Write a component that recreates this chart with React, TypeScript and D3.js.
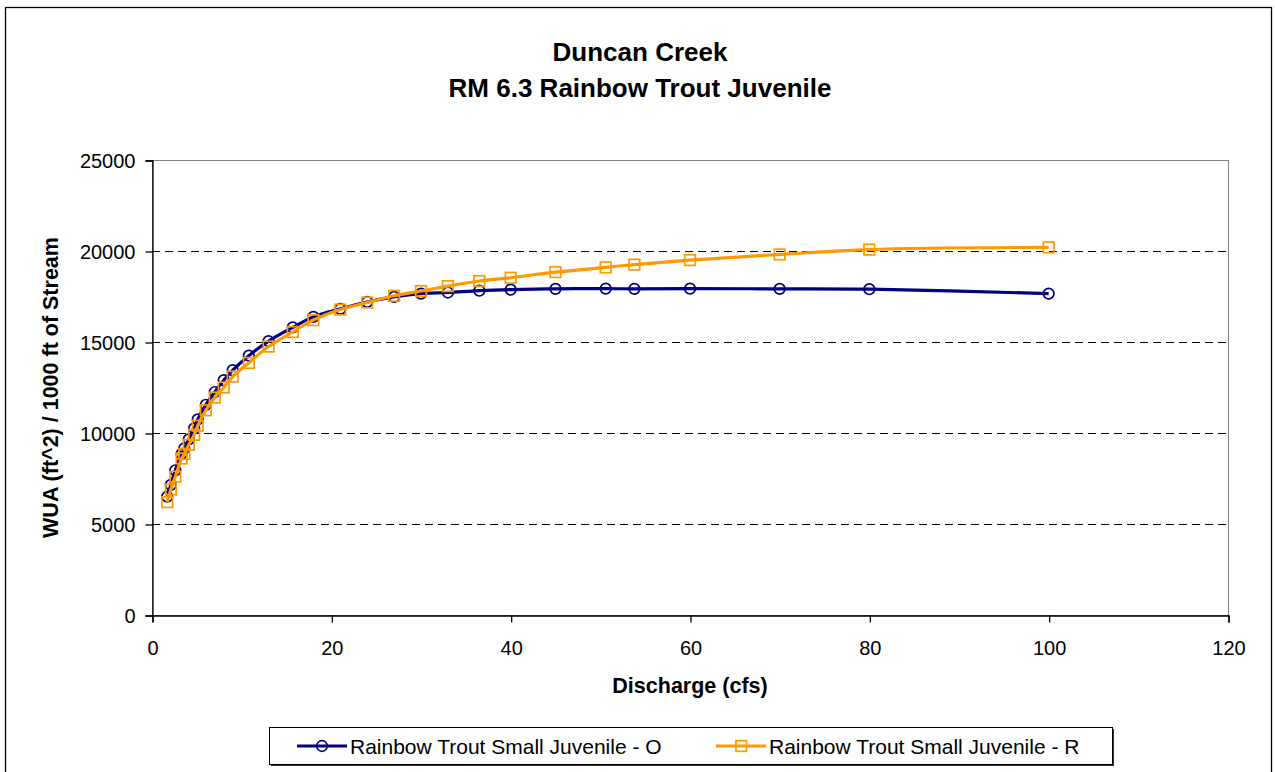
import React, { useEffect, useRef } from 'react';
import * as d3 from 'd3';

// Discharge (cfs)
const discharge = [1.7, 2.1, 2.6, 3.3, 3.6, 4.1, 4.7, 5.1, 6, 7, 8, 9, 10.8, 13, 15.7, 18, 21, 24, 27, 30, 33, 36.5, 40, 45, 50.6, 53.8, 60, 70, 80, 100];

// WUA per 1000 ft, series O (navy circles)
const wuaO = [6500, 7150, 7950, 8850, 9150, 9650, 10250, 10750, 11550, 12250, 12900, 13450, 14250, 15050, 15800, 16380, 16820, 17200, 17480, 17660, 17720, 17820, 17880, 17920, 17930, 17920, 17930, 17920, 17900, 17660];

// WUA per 1000 ft, series R (orange squares)
const wuaR = [6200, 6900, 7600, 8600, 8850, 9350, 9900, 10400, 11250, 11950, 12500, 13100, 13850, 14750, 15550, 16200, 16780, 17170, 17540, 17800, 18070, 18350, 18530, 18840, 19100, 19250, 19500, 19810, 20080, 20200];

const xTicks = [0, 20, 40, 60, 80, 100, 120];
const yTicks = [0, 5000, 10000, 15000, 20000, 25000];
const gridTicks = [5000, 10000, 15000, 20000];

const titleLines = ['Duncan Creek', 'RM 6.3 Rainbow Trout Juvenile'];
const seriesNames = ['Rainbow Trout Small Juvenile - O', 'Rainbow Trout Small Juvenile - R'];

const W = 1275;
const H = 772;
const FONT = 'Arial, "Liberation Sans", sans-serif';

const App: React.FC = () => {
  const svgRef = useRef<SVGSVGElement>(null);

  useEffect(() => {
    if (!svgRef.current) return;
    const svg = d3.select(svgRef.current);
    svg.selectAll('*').remove();

    const left = 152, right = 1228, top = 160, bottom = 615;
    const x = d3.scaleLinear().domain([0, 120]).range([left, right]);
    const y = d3.scaleLinear().domain([0, 25000]).range([bottom, top]);

    // outer chart border
    svg.append('rect')
      .attr('x', 5.5).attr('y', 7.5)
      .attr('width', 1266).attr('height', 780)
      .attr('fill', 'white').attr('stroke', 'black').attr('stroke-width', 1.3);

    // titles
    titleLines.forEach((t, i) => {
      svg.append('text')
        .text(t)
        .attr('x', 640).attr('y', 61 + i * 36)
        .attr('text-anchor', 'middle')
        .attr('font-family', FONT).attr('font-weight', 'bold').attr('font-size', 26);
    });

    // plot area border (gray)
    svg.append('rect')
      .attr('x', left + 0.5).attr('y', top + 0.5)
      .attr('width', right - left).attr('height', bottom - top)
      .attr('fill', 'none').attr('stroke', '#808080').attr('stroke-width', 1.2)
      .attr('shape-rendering', 'crispEdges');

    // dashed gridlines
    svg.selectAll('.grid').data(gridTicks).enter().append('line')
      .attr('x1', left).attr('x2', right)
      .attr('y1', d => y(d) + 0.5).attr('y2', d => y(d) + 0.5)
      .attr('stroke', 'black').attr('stroke-width', 1)
      .attr('stroke-dasharray', '8,5')
      .attr('shape-rendering', 'crispEdges');

    // y axis
    const yAxis = d3.axisLeft(y).tickValues(yTicks).tickSize(7).tickPadding(10).tickFormat(d => String(d));
    const gy = svg.append('g').attr('transform', `translate(${left + 0.5},0.5)`).call(yAxis);
    gy.select('.domain').attr('stroke', 'black').attr('stroke-width', 1.3);
    gy.selectAll('.tick line').attr('stroke', 'black').attr('stroke-width', 1.3);
    gy.selectAll('.tick text')
      .attr('font-family', FONT).attr('font-size', 20).attr('fill', 'black').attr('dy', '0.35em');

    // x axis
    const xAxis = d3.axisBottom(x).tickValues(xTicks).tickSize(7).tickPadding(18).tickFormat(d => String(d));
    const gx = svg.append('g').attr('transform', `translate(0.5,${bottom + 0.5})`).call(xAxis);
    gx.select('.domain').attr('stroke', 'black').attr('stroke-width', 1.3);
    gx.selectAll('.tick line').attr('stroke', 'black').attr('stroke-width', 1.3);
    gx.selectAll('.tick text')
      .attr('font-family', FONT).attr('font-size', 20).attr('fill', 'black');

    // axis titles
    svg.append('text')
      .text('Discharge (cfs)')
      .attr('x', 690).attr('y', 693)
      .attr('text-anchor', 'middle')
      .attr('font-family', FONT).attr('font-weight', 'bold').attr('font-size', 21.5);

    svg.append('text')
      .text('WUA (ft^2) / 1000 ft of Stream')
      .attr('transform', `translate(58,${(top + bottom) / 2}) rotate(-90)`)
      .attr('text-anchor', 'middle')
      .attr('font-family', FONT).attr('font-weight', 'bold').attr('font-size', 21.5);

    const series = [
      { values: wuaO, color: '#000080', marker: 'circle' },
      { values: wuaR, color: '#FF9900', marker: 'square' },
    ];

    const line = d3.line<[number, number]>()
      .x(d => x(d[0])).y(d => y(d[1]))
      .curve(d3.curveCatmullRom.alpha(0.5));

    series.forEach(s => {
      const pts: [number, number][] = discharge.map((q, i) => [q, s.values[i]]);
      svg.append('path')
        .datum(pts)
        .attr('d', line)
        .attr('fill', 'none')
        .attr('stroke', s.color)
        .attr('stroke-width', 3.2);

      if (s.marker === 'circle') {
        svg.selectAll(null).data(pts).enter().append('circle')
          .attr('cx', d => x(d[0])).attr('cy', d => y(d[1]))
          .attr('r', 5.3).attr('fill', 'none')
          .attr('stroke', s.color).attr('stroke-width', 1.7);
      } else {
        svg.selectAll(null).data(pts).enter().append('rect')
          .attr('x', d => x(d[0]) - 5.3).attr('y', d => y(d[1]) - 5.3)
          .attr('width', 10.6).attr('height', 10.6).attr('fill', 'none')
          .attr('stroke', s.color).attr('stroke-width', 1.7);
      }
    });

    // legend
    const lg = svg.append('g');
    lg.append('rect')
      .attr('x', 271).attr('y', 729).attr('width', 843).attr('height', 37)
      .attr('fill', '#333');
    lg.append('rect')
      .attr('x', 269.5).attr('y', 727.5).attr('width', 843).attr('height', 37)
      .attr('fill', 'white').attr('stroke', 'black').attr('stroke-width', 1);

    const legendX = [297, 716];
    series.forEach((s, i) => {
      const lx = legendX[i];
      const ly = 746;
      lg.append('line')
        .attr('x1', lx).attr('x2', lx + 50).attr('y1', ly).attr('y2', ly)
        .attr('stroke', s.color).attr('stroke-width', 3.2);
      if (s.marker === 'circle') {
        lg.append('circle').attr('cx', lx + 25).attr('cy', ly).attr('r', 5.3)
          .attr('fill', 'none').attr('stroke', s.color).attr('stroke-width', 1.7);
      } else {
        lg.append('rect').attr('x', lx + 20).attr('y', ly - 5.3).attr('width', 10.6).attr('height', 10.6)
          .attr('fill', 'none').attr('stroke', s.color).attr('stroke-width', 1.7);
      }
      lg.append('text')
        .text(seriesNames[i])
        .attr('x', lx + 53).attr('y', ly + 7.5)
        .attr('font-family', FONT).attr('font-size', 21);
    });
  }, []);

  return (
    <svg
      ref={svgRef}
      width={W}
      height={H}
      style={{ position: 'absolute', left: 0, top: 0, background: 'white' }}
    />
  );
};

export default App;
